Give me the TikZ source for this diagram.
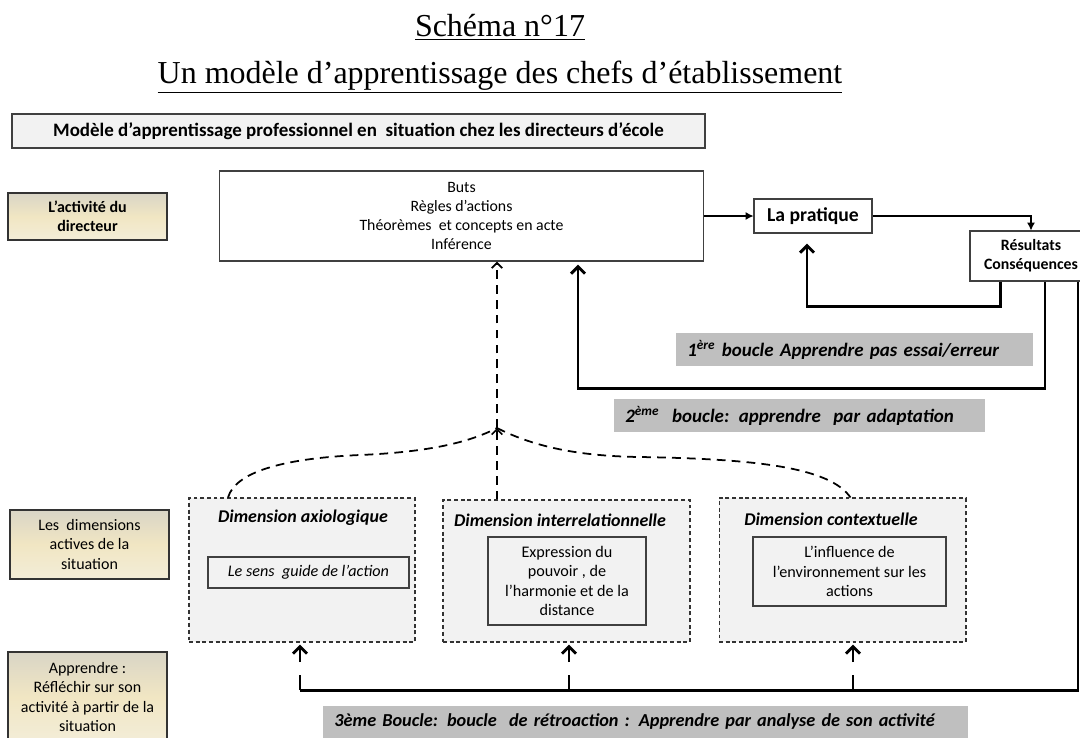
\documentclass[tikz,border=0pt]{standalone}
\usepackage{fontspec}
\setmainfont{Carlito}
\newfontfamily\serifttl{Liberation Serif}
\usetikzlibrary{arrows.meta}
\definecolor{boxgray}{HTML}{F2F2F2}
\definecolor{loopgray}{HTML}{BFBFBF}
\definecolor{tantop}{HTML}{D9D5C6}
\definecolor{tanmid}{HTML}{F1E6C3}
\definecolor{tanbot}{HTML}{F3EDD8}
\definecolor{edgegray}{HTML}{404040}

\begin{document}
\begin{tikzpicture}[x=0.02cm,y=-0.02cm,
  box/.style={rectangle,draw=edgegray,line width=0.6pt,fill=white,
    align=center,inner sep=0pt,font=\fontsize{9}{10.8}\selectfont},
  side/.style={box,draw=black!80,top color=tantop,bottom color=tanbot,
    middle color=tanmid,minimum width=3.18cm,font=\fontsize{9.1}{11}\selectfont},
  dimbox/.style={rectangle,draw=black!80,fill=boxgray,line width=0.6pt,
    dash pattern=on 2.2pt off 1.6pt},
  dimtitle/.style={font=\fontsize{10.2}{12}\selectfont\bfseries\itshape},
  inbox/.style={box,fill=boxgray,font=\fontsize{9.2}{11}\selectfont},
  looplabel/.style={rectangle,fill=loopgray,anchor=west,inner xsep=0.22cm,
    inner ysep=0pt,minimum height=0.66cm,align=left,
    font=\fontsize{10.8}{12}\selectfont\bfseries\itshape},
  thinarr/.style={-{Latex[length=4.5pt,width=4.5pt]},line width=0.6pt},
  loop/.style={-{Straight Barb[length=4pt,width=8pt]},line width=1.7pt},
  dimlink/.style={line width=1pt,dash pattern=on 5pt off 3.5pt}]

  \useasboundingbox (0,0) rectangle (1080,738);

  \node[font=\serifttl\fontsize{18.2}{21}\selectfont] (fig) at (500,27) {\underline{Schéma n°17}};
  \node[font=\serifttl\fontsize{18.2}{21}\selectfont] (ttl) at (500,77) {\underline{Un modèle d’apprentissage des chefs d’établissement}};

  \node[box,fill=boxgray,line width=0.8pt,minimum width=13.86cm,minimum height=0.68cm,
    font=\fontsize{10.8}{12}\selectfont\bfseries] (model) at (358.5,131)
    {Modèle d’apprentissage professionnel en~ situation chez les directeurs d’école};

  % side labels
  \node[side,minimum height=0.94cm,font=\fontsize{9.1}{11}\selectfont\bfseries] (lblact) at (87.5,216.5)
    {L’activité du\\directeur};
  \node[side,minimum height=1.38cm] (lbldim) at (89.5,544.5)
    {Les~ dimensions\\actives de la\\situation};
  \node[side,minimum height=1.8cm] (lblapp) at (87.5,697)
    {Apprendre :\\Réfléchir sur son\\activité à partir de la\\situation};

  % activity and practice
  \node[box,minimum width=9.7cm,minimum height=1.8cm] (goals) at (461.5,216)
    {Buts\\Règles d’actions\\Théorèmes~ et concepts en acte\\Inférence};
  \node[box,minimum width=2.36cm,minimum height=0.68cm,
    font=\fontsize{11.2}{13}\selectfont\bfseries] (practice) at (813,216) {La pratique};
  \node[box,minimum width=2.44cm,minimum height=1cm,
    font=\fontsize{9}{11}\selectfont\bfseries] (results) at (1031,256)
    {Résultats\\Conséquences};

  \draw[thinarr] (goals) -- (practice);
  \draw[thinarr] (practice.east) -| (results.north);

  % dimensions of the situation
  \node[dimbox,minimum width=4.52cm,minimum height=2.88cm] (dimA) at (302,570) {};
  \node[dimbox,minimum width=4.94cm,minimum height=2.84cm] (dimB) at (566.5,571) {};
  \node[dimbox,minimum width=4.94cm,minimum height=2.88cm] (dimC) at (842.5,570) {};

  \node[dimtitle] (titA) at (303,518) {Dimension axiologique};
  \node[dimtitle] (titB) at (560,520) {Dimension interrelationnelle};
  \node[dimtitle] (titC) at (831,519) {Dimension contextuelle};

  \node[inbox,minimum width=4.02cm,minimum height=0.62cm,
    font=\fontsize{9.2}{11}\selectfont\itshape] (senseA) at (308.5,572.5)
    {Le sens~ guide de l’action};
  \node[inbox,minimum width=3.16cm,minimum height=1.76cm] (powerB) at (567,581)
    {Expression du\\pouvoir , de\\l’harmonie et de la\\distance};
  \node[inbox,minimum width=3.86cm,minimum height=1.38cm] (envC) at (849.5,571.5)
    {L’influence de\\l’environnement sur les\\actions};

  \coordinate (jn) at (497,428);
  \draw[dimlink,-{Straight Barb[length=3pt,width=6pt]}] (jn |- dimB.north) -- (jn);
  \draw[dimlink,-{Straight Barb[length=3pt,width=6pt]}] (jn) -- (jn |- goals.south);
  \draw[dimlink] ([xshift=-1.48cm]dimA.north) .. controls (236,470) and (290,458) .. (360,455)
    .. controls (430,452) and (470,442) .. (jn);
  \draw[dimlink] (jn) .. controls (525,442) and (565,456) .. (640,457)
    .. controls (760,459) and (830,468) .. ([xshift=0.16cm]dimC.north);

  % the three loops
  \coordinate (c1) at (807,306);
  \coordinate (c2) at (578,388);
  \coordinate (c3) at (300,690);
  \coordinate (fb2) at (569,690);
  \coordinate (fb3) at (853,690);

  \draw[loop,shorten >=0.2cm] ([xshift=-0.62cm]results.south) |- (c1) -- (c1 |- practice.south);
  \draw[loop,shorten >=0.06cm] ([xshift=0.28cm]results.south) |- (c2) -- (c2 |- goals.south);
  \draw[line width=1.7pt] ([xshift=0.94cm]results.south) |- (c3);
  \foreach \p/\d in {c3/dimA,fb2/dimB,fb3/dimC}
    \draw[loop,dash pattern=on 0.3cm off 0.26cm,shorten >=0.04cm] (\p) -- (\p |- \d.south);

  \node[looplabel,text width=6.7cm] (lab1) at (676,349.5)
    {1\textsuperscript{ère} boucle Apprendre pas essai/erreur};
  \node[looplabel,text width=6.98cm] (lab2) at (614,415.5)
    {2\textsuperscript{ème}~ boucle: apprendre~ par adaptation};
  \node[looplabel,text width=12.46cm,minimum height=0.64cm,
    font=\fontsize{10.4}{12}\selectfont\bfseries\itshape] (lab3) at (323,722)
    {3ème Boucle: boucle~ de rétroaction : Apprendre par analyse de son activité};
\end{tikzpicture}
\end{document}
